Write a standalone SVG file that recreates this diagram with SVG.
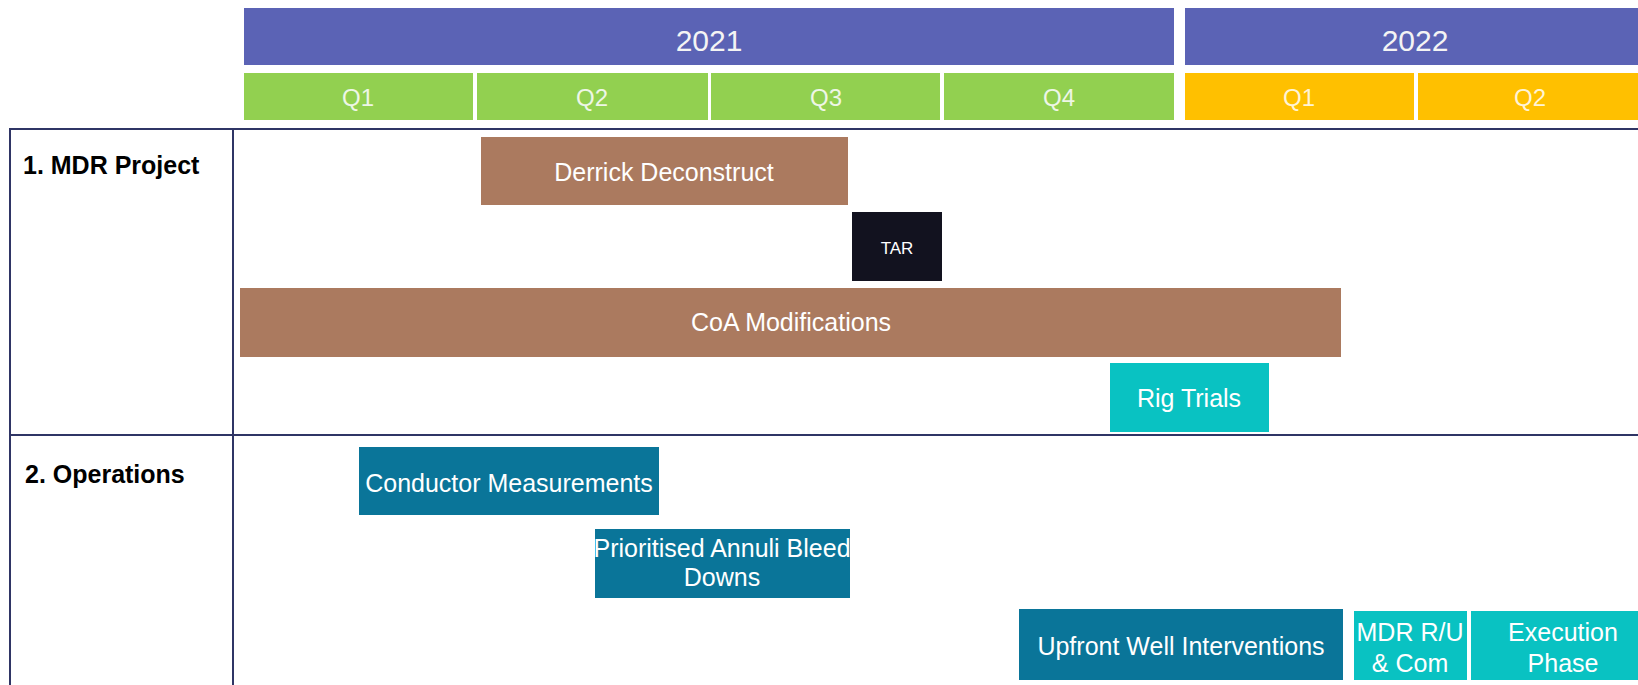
<svg xmlns="http://www.w3.org/2000/svg" width="1638" height="685" viewBox="0 0 1638 685">
<style>
.yr{fill:#5B63B5}
.q21{fill:#92D050}
.q22{fill:#FFC000}
.yt{font-family:"Liberation Sans",Arial,sans-serif;font-size:30px;fill:#F4F4F4;text-anchor:middle}
.qt{font-family:"Liberation Sans",Arial,sans-serif;font-size:24px;fill:#EEF6E6;text-anchor:middle}
.qy{fill:#FFF4D6}
.grid{stroke:#2F3565;stroke-width:2;fill:none}
.lab{font-family:"Liberation Sans",Arial,sans-serif;font-size:25px;font-weight:bold;fill:#000}
.bt{font-family:"Liberation Sans",Arial,sans-serif;font-size:25px;fill:#FFFFFF;text-anchor:middle}
.brown{fill:#AB7A5F}
.dark{fill:#12121F}
.blue{fill:#0A7599}
.cyan{fill:#09C2C2}
</style>
<rect width="1638" height="685" fill="#FFFFFF"/>
<g id="timeline-header">
<rect class="yr" x="244" y="8" width="930" height="57"/>
<text class="yt" x="709" y="51">2021</text>
<rect class="yr" x="1185" y="8" width="453" height="57"/>
<text class="yt" x="1415" y="51">2022</text>
<rect class="q21" x="244" y="73" width="229" height="47"/>
<text class="qt" x="358" y="106">Q1</text>
<rect class="q21" x="477" y="73" width="231" height="47"/>
<text class="qt" x="592" y="106">Q2</text>
<rect class="q21" x="711" y="73" width="229" height="47"/>
<text class="qt" x="826" y="106">Q3</text>
<rect class="q21" x="944" y="73" width="230" height="47"/>
<text class="qt" x="1059" y="106">Q4</text>
<rect class="q22" x="1185" y="73" width="229" height="47"/>
<text class="qt qy" x="1299" y="106">Q1</text>
<rect class="q22" x="1418" y="73" width="220" height="47"/>
<text class="qt qy" x="1530" y="106">Q2</text>
</g>
<g id="grid">
<line class="grid" x1="9" y1="129" x2="1638" y2="129"/>
<line class="grid" x1="10" y1="129" x2="10" y2="685"/>
<line class="grid" x1="233" y1="129" x2="233" y2="685"/>
<line class="grid" x1="9" y1="435" x2="1638" y2="435"/>
</g>
<g id="row-mdr-project">
<text class="lab" x="23" y="174">1. MDR Project</text>
</g>
<g id="row-operations">
<text class="lab" x="25" y="483">2. Operations</text>
</g>
<g id="derrick-deconstruct">
<rect class="brown" x="481" y="137" width="367" height="68"/>
<text class="bt" x="664" y="181">Derrick Deconstruct</text>
</g>
<g id="tar">
<rect class="dark" x="852" y="212" width="90" height="69"/>
<text class="bt" x="897" y="254" style="font-size:17px">TAR</text>
</g>
<g id="coa-modifications">
<rect class="brown" x="240" y="288" width="1101" height="69"/>
<text class="bt" x="791" y="331">CoA Modifications</text>
</g>
<g id="rig-trials">
<rect class="cyan" x="1110" y="363" width="159" height="69"/>
<text class="bt" x="1189" y="407">Rig Trials</text>
</g>
<g id="conductor-measurements">
<rect class="blue" x="359" y="447" width="300" height="68"/>
<text class="bt" x="509" y="492">Conductor Measurements</text>
</g>
<g id="prioritised-annuli">
<rect class="blue" x="595" y="529" width="255" height="69"/>
<text class="bt" x="722" y="557">Prioritised Annuli Bleed</text>
<text class="bt" x="722" y="586">Downs</text>
</g>
<g id="upfront-well-interventions">
<rect class="blue" x="1019" y="609" width="324" height="71"/>
<text class="bt" x="1181" y="655">Upfront Well Interventions</text>
</g>
<g id="mdr-ru-com">
<rect class="cyan" x="1354" y="611" width="113" height="69"/>
<text class="bt" x="1410" y="641">MDR R/U</text>
<text class="bt" x="1410" y="672">&amp; Com</text>
</g>
<g id="execution-phase">
<rect class="cyan" x="1471" y="611" width="167" height="69"/>
<text class="bt" x="1563" y="641">Execution</text>
<text class="bt" x="1563" y="672">Phase</text>
</g>
</svg>
